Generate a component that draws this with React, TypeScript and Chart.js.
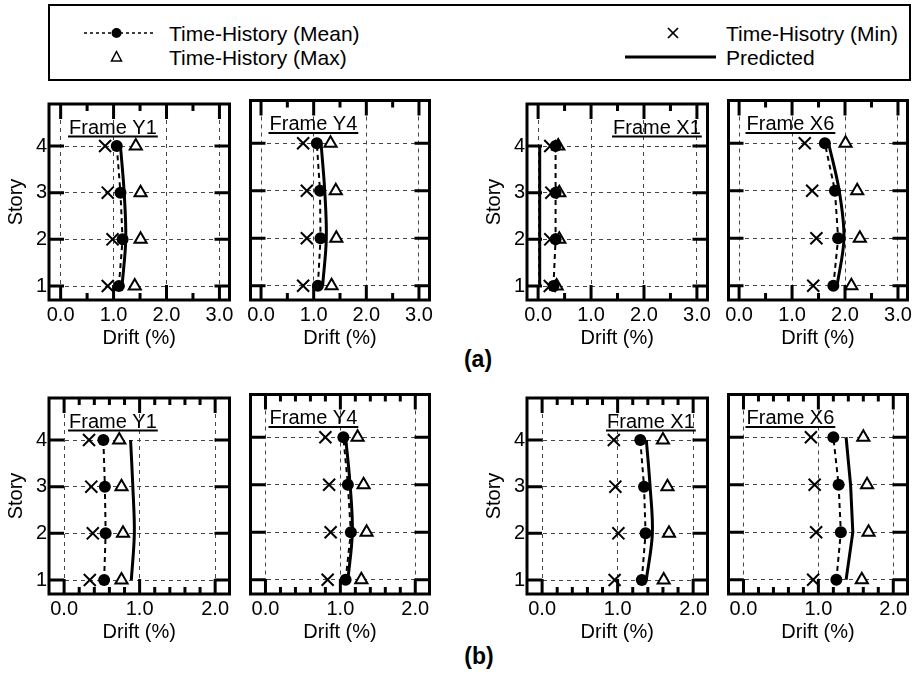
import React, { useEffect, useRef } from 'react';
import { Chart, registerables } from 'chart.js';

Chart.register(...registerables);

const FONT = '"Liberation Sans", Arial, Helvetica, sans-serif';

// ---------- data ----------
const stories = [1, 2, 3, 4];
const driftMajorA = [0, 1, 2, 3];
const driftMinorA = [0.5, 1.5, 2.5];
const driftMajorB = [0, 1, 2];
const driftMinorB = [0.2, 0.4, 0.6, 0.8, 1.2, 1.4, 1.6, 1.8];

// row (a) — values for stories 1..4
const aY1Mean = [1.1, 1.17, 1.13, 1.06];
const aY1Min = [0.89, 0.98, 0.89, 0.84];
const aY1Max = [1.4, 1.51, 1.51, 1.42];
const aY1Pred = [1.16, 1.23, 1.2, 1.13];

const aY4Mean = [1.08, 1.13, 1.12, 1.06];
const aY4Min = [0.8, 0.87, 0.87, 0.8];
const aY4Max = [1.34, 1.43, 1.42, 1.32];
const aY4Pred = [1.17, 1.24, 1.21, 1.14];

const aX1Mean = [0.29, 0.33, 0.33, 0.33];
const aX1Min = [0.22, 0.23, 0.25, 0.23];
const aX1Max = [0.35, 0.4, 0.4, 0.38];
const aX1Pred = [0.03, 0.03, 0.03, 0.03];

const aX6Mean = [1.78, 1.87, 1.81, 1.62];
const aX6Min = [1.4, 1.46, 1.38, 1.24];
const aX6Max = [2.12, 2.28, 2.23, 2.01];
const aX6Pred = [1.85, 1.98, 1.89, 1.69];

// row (b)
const bY1Mean = [0.53, 0.55, 0.54, 0.52];
const bY1Min = [0.34, 0.38, 0.36, 0.33];
const bY1Max = [0.76, 0.78, 0.76, 0.73];
const bY1Pred = [0.89, 0.93, 0.91, 0.88];

const bY4Mean = [1.07, 1.14, 1.1, 1.04];
const bY4Min = [0.83, 0.87, 0.85, 0.8];
const bY4Max = [1.28, 1.35, 1.31, 1.23];
const bY4Pred = [1.1, 1.16, 1.13, 1.07];

const bX1Mean = [1.32, 1.37, 1.35, 1.3];
const bX1Min = [0.96, 1.01, 0.97, 0.95];
const bX1Max = [1.61, 1.68, 1.66, 1.6];
const bX1Pred = [1.38, 1.46, 1.43, 1.38];

const bX6Mean = [1.24, 1.3, 1.27, 1.2];
const bX6Min = [0.93, 0.97, 0.95, 0.9];
const bX6Max = [1.58, 1.67, 1.65, 1.6];
const bX6Pred = [1.37, 1.46, 1.43, 1.37];

// ---------- panel layout ----------
type PanelCfg = {
  title: string;
  mean: number[];
  min: number[];
  max: number[];
  pred: number[];
  major: number[];
  minor: number[];
  xMin: number;
  xMax: number;
  left: number;
  top: number;
  width: number;
  padLeft: number;
  padRight: number;
  yLabels: boolean;
  labelDx: number;
  tension: number;
};

const ROW_A_TOP = 90;
const ROW_B_TOP = 384;
const CANVAS_H = 260;

const panels: PanelCfg[] = [
  { title: 'Frame Y1', mean: aY1Mean, min: aY1Min, max: aY1Max, pred: aY1Pred, major: driftMajorA, minor: driftMinorA, xMin: -0.22, xMax: 3.19, left: 0, top: ROW_A_TOP, width: 240, padLeft: 0, padRight: 7, yLabels: true, labelDx: 20, tension: 0.35 },
  { title: 'Frame Y4', mean: aY4Mean, min: aY4Min, max: aY4Max, pred: aY4Pred, major: driftMajorA, minor: driftMinorA, xMin: -0.2, xMax: 3.2, left: 240, top: ROW_A_TOP, width: 200, padLeft: 7, padRight: 8, yLabels: false, labelDx: 19, tension: 0.35 },
  { title: 'Frame X1', mean: aX1Mean, min: aX1Min, max: aX1Max, pred: aX1Pred, major: driftMajorA, minor: driftMinorA, xMin: -0.21, xMax: 3.2, left: 478, top: ROW_A_TOP, width: 240, padLeft: 0, padRight: 6, yLabels: true, labelDx: 86, tension: 0.35 },
  { title: 'Frame X6', mean: aX6Mean, min: aX6Min, max: aX6Max, pred: aX6Pred, major: driftMajorA, minor: driftMinorA, xMin: -0.2, xMax: 3.18, left: 718, top: ROW_A_TOP, width: 200, padLeft: 9, padRight: 8, yLabels: false, labelDx: 18, tension: 0.35 },
  { title: 'Frame Y1', mean: bY1Mean, min: bY1Min, max: bY1Max, pred: bY1Pred, major: driftMajorB, minor: driftMinorB, xMin: -0.2, xMax: 2.19, left: 0, top: ROW_B_TOP, width: 240, padLeft: 0, padRight: 7, yLabels: true, labelDx: 20, tension: 0.35 },
  { title: 'Frame Y4', mean: bY4Mean, min: bY4Min, max: bY4Max, pred: bY4Pred, major: driftMajorB, minor: driftMinorB, xMin: -0.2, xMax: 2.19, left: 240, top: ROW_B_TOP, width: 200, padLeft: 7, padRight: 8, yLabels: false, labelDx: 19, tension: 0.35 },
  { title: 'Frame X1', mean: bX1Mean, min: bX1Min, max: bX1Max, pred: bX1Pred, major: driftMajorB, minor: driftMinorB, xMin: -0.2, xMax: 2.19, left: 478, top: ROW_B_TOP, width: 240, padLeft: 0, padRight: 6, yLabels: true, labelDx: 80, tension: 0.35 },
  { title: 'Frame X6', mean: bX6Mean, min: bX6Min, max: bX6Max, pred: bX6Pred, major: driftMajorB, minor: driftMinorB, xMin: -0.2, xMax: 2.19, left: 718, top: ROW_B_TOP, width: 200, padLeft: 9, padRight: 8, yLabels: false, labelDx: 18, tension: 0 },
];

// ---------- frame plugin (box, inward ticks, panel label) ----------
const framePlugin = {
  id: 'frameBox',
  afterDraw(chart: any, _args: any, opts: any) {
    const { ctx, chartArea } = chart;
    const { left, right, top, bottom } = chartArea;
    const xs = chart.scales.x;
    const ys = chart.scales.y;
    ctx.save();
    ctx.strokeStyle = '#000';
    ctx.lineCap = 'butt';
    ctx.lineWidth = 3;
    ctx.beginPath();
    const xt = (vals: number[], len: number) => {
      vals.forEach((v) => {
        const px = xs.getPixelForValue(v);
        ctx.moveTo(px, top);
        ctx.lineTo(px, top + len);
        ctx.moveTo(px, bottom);
        ctx.lineTo(px, bottom - len);
      });
    };
    xt(opts.major, 15);
    xt(opts.minor, 7);
    stories.forEach((s) => {
      const py = ys.getPixelForValue(s);
      ctx.moveTo(left, py);
      ctx.lineTo(left + 15, py);
      ctx.moveTo(right, py);
      ctx.lineTo(right - 15, py);
    });
    ctx.stroke();
    ctx.lineJoin = 'miter';
    ctx.strokeRect(left, top, right - left, bottom - top);

    // panel label with underline
    ctx.font = `20px ${FONT}`;
    ctx.fillStyle = '#000';
    ctx.textAlign = 'left';
    ctx.textBaseline = 'alphabetic';
    const lx = left + opts.labelDx;
    const by = top + 29.5;
    ctx.fillText(opts.label, lx, by);
    const w = ctx.measureText(opts.label).width;
    ctx.lineWidth = 2;
    ctx.beginPath();
    ctx.moveTo(lx - 1, top + 32.5);
    ctx.lineTo(lx + w + 1, top + 32.5);
    ctx.stroke();
    ctx.restore();
  },
};

function PanelChart({ cfg }: { cfg: PanelCfg }) {
  const ref = useRef<HTMLCanvasElement | null>(null);
  useEffect(() => {
    if (!ref.current) return;
    const pts = (arr: number[]) => arr.map((v, i) => ({ x: v, y: stories[i] }));
    const tickFont = { family: FONT, size: 20 };
    const chart = new Chart(ref.current, {
      type: 'scatter',
      data: {
        datasets: [
          {
            label: 'Time-History (Mean)',
            data: pts(cfg.mean),
            showLine: true,
            borderColor: '#000',
            borderWidth: 2,
            borderDash: [5, 4],
            pointStyle: 'circle',
            pointRadius: 6,
            pointBackgroundColor: '#000',
            pointBorderColor: '#000',
            pointBorderWidth: 0,
          },
          {
            label: 'Predicted',
            data: pts(cfg.pred),
            showLine: true,
            borderColor: '#000',
            borderWidth: 3,
            pointRadius: 0,
            tension: cfg.tension,
          },
          {
            label: 'Time-Hisotry (Min)',
            data: pts(cfg.min),
            showLine: false,
            pointStyle: 'crossRot',
            pointRadius: 8.5,
            pointBorderColor: '#000',
            pointBackgroundColor: '#000',
            pointBorderWidth: 2,
          },
          {
            label: 'Time-History (Max)',
            data: pts(cfg.max),
            showLine: false,
            pointStyle: 'triangle',
            pointRadius: 7,
            pointBorderColor: '#000',
            pointBackgroundColor: '#fff',
            pointBorderWidth: 2,
          },
        ],
      },
      options: {
        animation: false,
        responsive: false,
        maintainAspectRatio: false,
        events: [],
        layout: { padding: { left: cfg.padLeft, right: cfg.padRight, top: 9, bottom: 0 } },
        plugins: {
          legend: { display: false },
          tooltip: { enabled: false },
          frameBox: { major: cfg.major, minor: cfg.minor, label: cfg.title, labelDx: cfg.labelDx },
        } as any,
        scales: {
          x: {
            type: 'linear',
            min: cfg.xMin,
            max: cfg.xMax,
            afterBuildTicks: (s: any) => {
              s.ticks = cfg.major.map((v) => ({ value: v }));
            },
            afterFit: (s: any) => {
              s.height = 50;
            },
            grid: { color: '#444', lineWidth: 1, drawTicks: false },
            border: { display: false, dash: [4, 4] },
            ticks: {
              color: '#000',
              font: tickFont,
              padding: 3,
              autoSkip: false,
              maxRotation: 0,
              callback: (v: any) => Number(v).toFixed(1),
            },
            title: { display: true, text: 'Drift (%)', color: '#000', font: tickFont, padding: 0 },
          },
          y: {
            type: 'linear',
            min: 0.7,
            max: 4.9,
            afterBuildTicks: (s: any) => {
              s.ticks = stories.map((v) => ({ value: v }));
            },
            afterFit: (s: any) => {
              s.width = cfg.yLabels ? 49 : 0;
            },
            grid: { color: '#444', lineWidth: 1, drawTicks: false },
            border: { display: false, dash: [4, 4] },
            ticks: {
              display: cfg.yLabels,
              color: '#000',
              font: tickFont,
              padding: 2,
              callback: (v: any) => String(v),
            },
            title: {
              display: cfg.yLabels,
              text: 'Story',
              color: '#000',
              font: tickFont,
              padding: { top: 4, bottom: 0 },
            },
          },
        },
      } as any,
      plugins: [framePlugin],
    });
    return () => chart.destroy();
  }, [cfg]);
  return (
    <canvas
      ref={ref}
      width={cfg.width}
      height={CANVAS_H}
      style={{ position: 'absolute', left: cfg.left, top: cfg.top, width: cfg.width, height: CANVAS_H }}
    />
  );
}

function Legend() {
  const tf = { fontFamily: FONT, fontSize: 21, fill: '#000' } as any;
  return (
    <svg width={918} height={675} style={{ position: 'absolute', left: 0, top: 0 }}>
      <rect x={49} y={5} width={861} height={75} fill="none" stroke="#000" strokeWidth={2} />
      <line x1={84} y1={33} x2={155} y2={33} stroke="#000" strokeWidth={1.5} strokeDasharray="3 3" />
      <circle cx={116.5} cy={33} r={5} fill="#000" />
      <text x={169} y={40.5} {...tf}>Time-History (Mean)</text>
      <polygon points="116.5,51.5 111.5,61 121.5,61" fill="#fff" stroke="#000" strokeWidth={1.5} />
      <text x={169} y={64.5} {...tf}>Time-History (Max)</text>
      <line x1={668} y1={28} x2={678} y2={38} stroke="#000" strokeWidth={1.7} />
      <line x1={678} y1={28} x2={668} y2={38} stroke="#000" strokeWidth={1.7} />
      <text x={726} y={40.5} {...tf}>Time-Hisotry (Min)</text>
      <line x1={625} y1={57} x2={716} y2={57} stroke="#000" strokeWidth={3} />
      <text x={726} y={64.5} {...tf}>Predicted</text>
      <text x={478} y={367} textAnchor="middle" fontFamily={FONT} fontSize={23} fontWeight="bold">(a)</text>
      <text x={479} y={664} textAnchor="middle" fontFamily={FONT} fontSize={23} fontWeight="bold">(b)</text>
    </svg>
  );
}

export default function App() {
  return (
    <div style={{ position: 'absolute', left: 0, top: 0, width: 918, height: 675, background: '#fff' }}>
      <Legend />
      {panels.map((p, i) => (
        <PanelChart key={i} cfg={p} />
      ))}
    </div>
  );
}
